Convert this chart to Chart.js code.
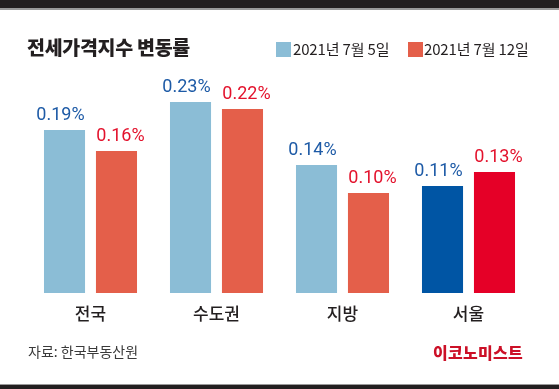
<!DOCTYPE html>
<html><head><meta charset="utf-8">
<script src="https://cdn.jsdelivr.net/npm/chart.js@4"></script>
<style>
html,body{margin:0;padding:0;background:#fff;}
#wrap{position:relative;width:559px;height:389px;overflow:hidden;background:#fff;}
#topbar{position:absolute;left:0;top:0;width:559px;height:8px;background:#231f20;}
#topline{position:absolute;left:0;top:8px;width:559px;height:1.5px;background:#9a9a9a;}
#botline{position:absolute;left:0;top:384px;width:559px;height:1px;background:#9a9a9a;}
#botbar{position:absolute;left:0;top:385px;width:559px;height:4px;background:#231f20;}
#title{position:absolute;left:27px;top:34px;font-family:"Noto Sans CJK KR";font-weight:900;font-size:19.5px;line-height:26px;color:#231f20;white-space:nowrap;letter-spacing:-0.3px;}
.lg{position:absolute;top:38px;font-family:"Noto Sans CJK KR";font-size:15px;line-height:22px;color:#231f20;white-space:nowrap;letter-spacing:-0.15px;}
.sw{position:absolute;top:42px;width:15px;height:15px;}
#src{position:absolute;left:28px;top:341px;font-family:"Noto Sans CJK KR";font-size:14px;line-height:20px;color:#3a3a3a;white-space:nowrap;}
#logo{position:absolute;left:433px;top:342px;font-family:"Noto Sans CJK KR";font-weight:900;font-size:16px;line-height:20px;color:#cc1027;white-space:nowrap;letter-spacing:0.3px;}
#c{position:absolute;left:0;top:0;}
</style></head>
<body><div id="wrap">
<canvas id="c" width="559" height="389"></canvas>
<div id="topbar"></div><div id="topline"></div>
<div id="botline"></div><div id="botbar"></div>
<div id="title">전세가격지수 변동률</div>
<div class="sw" style="left:276px;background:#8bbdd6"></div>
<div class="lg" id="lg1" style="left:293px">2021년 7월 5일</div>
<div class="sw" style="left:408px;background:#e45f4a"></div>
<div class="lg" id="lg2" style="left:424px">2021년 7월 12일</div>
<div id="src">자료: 한국부동산원</div>
<div id="logo">이코노미스트</div>
</div>
<script>
const categories = ["전국", "수도권", "지방", "서울"];
const seriesNames = ["2021년 7월 5일", "2021년 7월 12일"];
const july5 = [0.19, 0.23, 0.14, 0.11];
const july12 = [0.16, 0.22, 0.10, 0.13];

const yMin = -0.043, yMax = 0.277;

const labelPlugin = {
  id: 'vlabels',
  afterDatasetsDraw(chart) {
    const ctx = chart.ctx;
    ctx.save();
    ctx.font = '400 18px Roboto';
    ctx.textAlign = 'center';
    ctx.textBaseline = 'alphabetic';
    chart.data.datasets.forEach((ds, di) => {
      const meta = chart.getDatasetMeta(di);
      meta.data.forEach((bar, i) => {
        ctx.fillStyle = ds.labelColor;
        ctx.fillText(ds.data[i].toFixed(2) + '%', bar.x + ds.labelShift, bar.y - 10);
      });
    });
    ctx.restore();
  }
};

new Chart(document.getElementById('c'), {
  type: 'bar',
  data: {
    labels: categories,
    datasets: [
      { label: seriesNames[0], data: july5, base: yMin, labelShift: -4,
        backgroundColor: ['#8bbdd6','#8bbdd6','#8bbdd6','#0055a4'], labelColor: '#1d5aa6' },
      { label: seriesNames[1], data: july12, base: yMin, labelShift: 4,
        backgroundColor: ['#e45f4a','#e45f4a','#e45f4a','#e50027'], labelColor: '#e3122c' }
    ]
  },
  options: {
    responsive: false,
    animation: false,
    devicePixelRatio: 1,
    categoryPercentage: 0.825,
    barPercentage: 0.79,
    layout: { padding: { left: 27.5, right: 27.5, top: 69, bottom: 56 } },
    plugins: { legend: { display: false }, tooltip: { enabled: false } },
    scales: {
      y: { display: false, min: yMin, max: yMax },
      x: {
        grid: { display: false }, border: { display: false },
        ticks: { color: '#231f20', padding: 2, font: { family: 'Noto Sans CJK KR', size: 17, weight: 500 } },
        afterFit(axis) { axis.height = 40; }
      }
    }
  },
  plugins: [labelPlugin]
});
</script>
</body></html>
